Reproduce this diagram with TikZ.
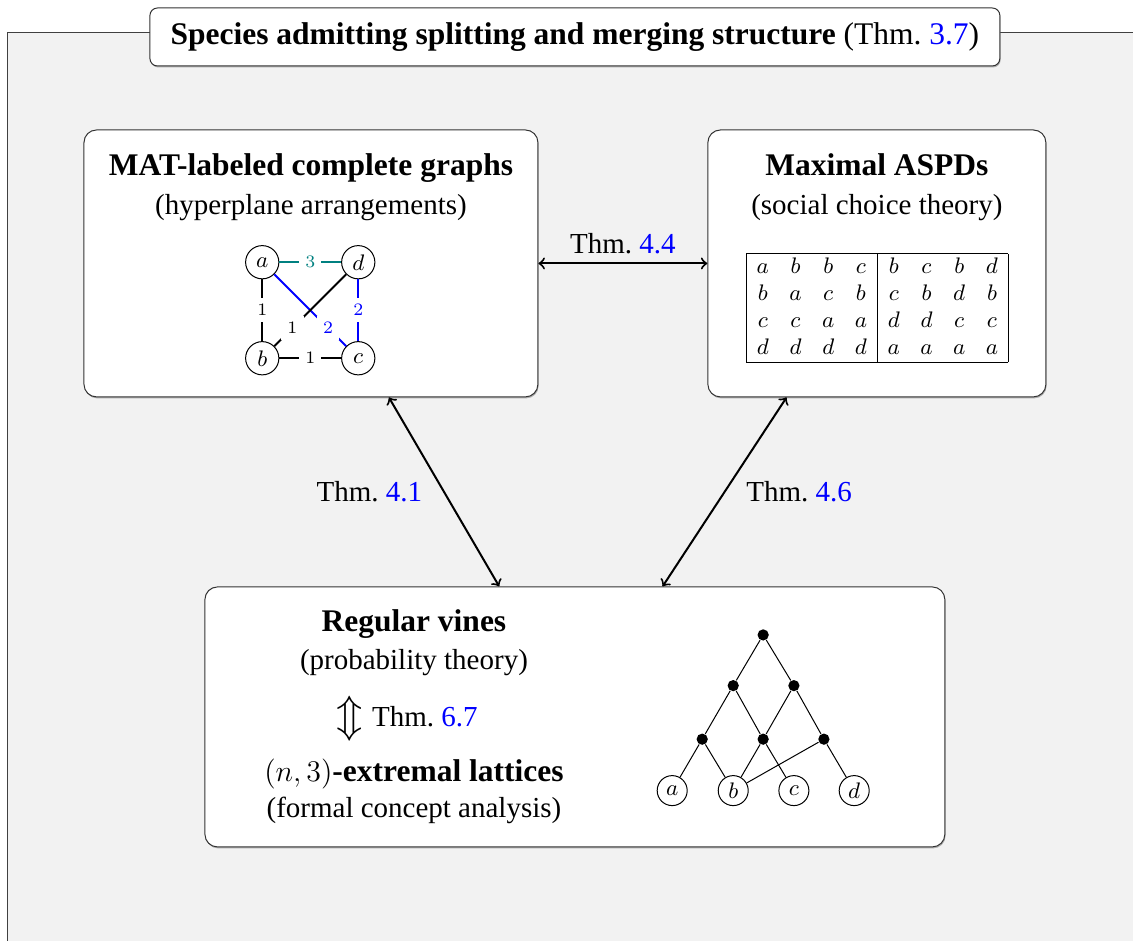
\documentclass[tikz,border=0pt]{standalone}
\usepackage{fontspec}
\setmainfont{Liberation Serif}
\usetikzlibrary{positioning,shadows}
\definecolor{thmblue}{RGB}{0,0,255}
\definecolor{edgeteal}{RGB}{0,128,128}
\newcommand{\thmref}[1]{Thm.~\textcolor{thmblue}{#1}}

\begin{document}
\begin{tikzpicture}[
        every node/.style={font=\fontsize{11.6}{14}\selectfont},
        area/.style={draw=black!80, fill=white, rounded corners=5pt,
            drop shadow={shadow xshift=0.3pt, shadow yshift=-0.6pt, opacity=0.6}},
        head/.style={anchor=base, font=\fontsize{12.6}{15}\selectfont\bfseries},
        sub/.style={anchor=base},
        vertex/.style={draw, circle, fill=white, minimum size=13.3pt, inner sep=0pt,
            font=\fontsize{9.3}{11}\selectfont},
        latdot/.style={circle, fill=black, minimum size=4.5pt, inner sep=0pt},
        leaf/.style={draw, circle, minimum size=12pt, inner sep=0pt,
            font=\fontsize{9.3}{11}\selectfont},
        elabel/.style={fill=white, inner sep=2.5pt, font=\fontsize{6.7}{8}\selectfont},
        link/.style={<->, thick},
    ]
        \useasboundingbox (0,0) rectangle (15.93,-13.23);
        \clip (0,0) rectangle (15.93,-13.23);
        \draw[black!75, fill=black!5] (0.112,-0.464) rectangle (17,-14);

        % title
        \node[area, rounded corners=3pt, minimum width=11.95cm, minimum height=0.815cm, inner sep=0pt] (title) at (8.083,-0.520)
            {\fontsize{12.6}{15}\selectfont\textbf{Species admitting splitting and merging structure} (\thmref{3.7})};

        % MAT-labeled complete graphs
        \node[area, minimum width=6.382cm, minimum height=3.753cm] (mat) at (4.372,-3.704) {};
        \node[head] (mathead) at (4.372,-2.474) {MAT-labeled complete graphs};
        \node[sub] (matsub) at (4.372,-3.022) {(hyperplane arrangements)};
        \node[vertex] (a) at (3.687,-3.687) {$a$};
        \node[vertex] (d) at (5.037,-3.687) {$d$};
        \node[vertex] (b) at (3.687,-5.037) {$b$};
        \node[vertex] (c) at (5.037,-5.037) {$c$};
        \draw[thick, edgeteal] (a) -- node[elabel] {$3$} (d);
        \draw[thick] (a) -- node[elabel] {$1$} (b);
        \draw[thick] (b) -- node[elabel] {$1$} (c);
        \draw[thick, blue] (d) -- node[elabel] {$2$} (c);
        \draw[thick, blue] (a) -- node[elabel, near end] {$2$} (c);
        \draw[thick] (b) -- node[elabel, near start] {$1$} (d);

        % maximal ASPDs
        \node[area, minimum width=4.752cm, minimum height=3.753cm] (aspd) at (12.329,-3.704) {};
        \node[head] (aspdhead) at (12.329,-2.474) {Maximal ASPDs};
        \node[sub] (aspdsub) at (12.329,-3.022) {(social choice theory)};
        \node[inner sep=0pt, font=\fontsize{9.3}{10.8}\selectfont] (profiles) at (12.336,-4.337) {%
            $\setlength{\arraycolsep}{4.1pt}\begin{array}{|cccc|cccc|}\hline
            a & b & b & c & b & c & b & d\\
            b & a & c & b & c & b & d & b\\
            c & c & a & a & d & d & c & c\\
            d & d & d & d & a & a & a & a\\ \hline
            \end{array}$};

        % regular vines and extremal lattices
        \node[area, minimum width=10.403cm, minimum height=3.655cm] (vines) at (8.083,-10.080) {};
        \node[head] (vinehead) at (5.82,-8.881) {Regular vines};
        \node[sub] (vinesub) at (5.82,-9.419) {(probability theory)};
        \node[sub] (equiv) at (5.72,-10.216)
            {\raisebox{-1.2pt}{\fontsize{16}{18}\selectfont$\Updownarrow$}\hspace{1pt} \thmref{6.7}};
        \node[head] (lathead) at (5.82,-10.993) {$(n,3)$-extremal lattices};
        \node[sub] (latsub) at (5.82,-11.499) {(formal concept analysis)};

        \node[latdot] (top) at (10.730,-8.927) {};
        \node[latdot] (m1) at (10.309,-9.640) {};
        \node[latdot] (m2) at (11.162,-9.640) {};
        \node[latdot] (l1) at (9.873,-10.393) {};
        \node[latdot] (l2) at (10.730,-10.393) {};
        \node[latdot] (l3) at (11.584,-10.393) {};
        \node[leaf] (la) at (9.451,-11.116) {$a$};
        \node[leaf] (lb) at (10.309,-11.116) {$b$};
        \node[leaf] (lc) at (11.162,-11.116) {$c$};
        \node[leaf] (ld) at (12.010,-11.116) {$d$};
        \draw (top) -- (m1) (top) -- (m2)
            (m1) -- (l1) (m1) -- (l2) (m2) -- (l2) (m2) -- (l3)
            (l1) -- (la) (l1) -- (lb) (l2) -- (lb) (l2) -- (lc)
            (l3) -- (lb) (l3) -- (ld);

        % theorems between the species
        \draw[link] (mat) -- node[above] {\thmref{4.4}} (aspd);
        \draw[link] ([xshift=1.096cm]mat.south) -- node[left=5pt] {\thmref{4.1}} ([xshift=-1.064cm]vines.north);
        \draw[link] ([xshift=-1.27cm]aspd.south) -- node[right=5pt] {\thmref{4.6}} ([xshift=1.233cm]vines.north);
    \end{tikzpicture}
\end{document}
